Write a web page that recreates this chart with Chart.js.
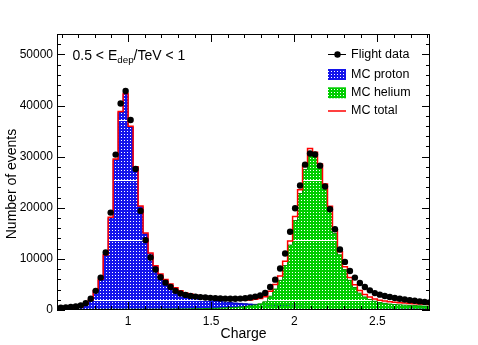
<!DOCTYPE html>
<html><head><meta charset="utf-8">
<script src="https://cdn.jsdelivr.net/npm/chart.js@4/dist/chart.umd.min.js"></script>
<style>html,body{margin:0;padding:0;background:#fff;}#wrap{width:478px;height:345px;}</style>
</head><body><div id="wrap"><canvas id="c" width="478" height="345"></canvas></div>
<script>
// Histogram bin edges (charge)
const BIN_EDGES = [0.55,0.58,0.61,0.64,0.67,0.70,0.73,0.76,0.79,0.82,0.85,0.88,0.91,0.94,0.97,1.00,
1.03,1.06,1.09,1.12,1.15,1.18,1.21,1.24,1.27,1.30,1.33,1.36,1.39,1.42,1.45,1.48,1.51,1.54,1.57,1.60,
1.63,1.66,1.69,1.72,1.75,1.78,1.81,1.84,1.87,1.90,1.93,1.96,1.99,2.02,
2.05,2.08,2.11,2.14,2.17,2.20,2.23,2.26,2.29,2.32,2.35,2.38,2.41,2.44,2.47,2.50,2.53,2.56,2.59,2.62,
2.65,2.68,2.71,2.74,2.77,2.80,2.83];

// Flight data (counts per bin)
const FLIGHT_DATA = [450,460,500,580,700,900,1340,2200,3750,6340,
 11260,19060,30400,40400,42870,37170,27600,19390,13680,10270,
 7910,6400,5350,4490,3750,3250,2950,2750,2620,2520,
 2450,2380,2320,2270,2230,2200,2200,2230,2300,2450,
 2620,2850,3350,4490,5940,8110,11060,15310,19920,24370,
 28440,30610,30410,28240,24170,19720,15790,11850,9410,7640,
 6340,5280,4490,3840,3310,3000,2750,2550,2350,2200,
 2050,1920,1800,1680,1580,1500];

// MC proton
const MC_PROTON = [190,200,220,260,340,540,1000,1850,3650,5900,
 10700,18000,29400,38700,42200,35800,27900,20200,14900,11000,
 8500,6900,5800,4900,4150,3550,3100,2900,2650,2400,
 2200,2000,1850,1700,1560,1450,1370,1300,1230,1160,
 1100,1040,990,950,910,870,840,810,780,750,
 720,700,680,660,640,620,600,580,560,545,
 530,515,500,485,470,455,440,430,420,410,
 400,390,380,370,360,350];

// MC helium
const MC_HELIUM = [100,100,100,100,110,110,110,120,120,120,
 120,130,130,130,140,140,140,150,150,150,
 150,160,170,180,190,200,210,225,240,255,
 280,310,340,380,420,470,530,600,700,820,
 980,1200,1600,2700,4100,5800,8700,12700,17500,22800,
 27500,30900,30200,27900,24000,19700,15000,10800,7900,5800,
 4400,3300,2550,2050,1700,1450,1300,1170,1080,1010,
 950,900,860,810,770,740];

const X_TICKS = [1, 1.5, 2, 2.5];
const Y_TICKS = [0, 10000, 20000, 30000, 40000, 50000];
const X_RANGE = [0.572, 2.817];
const Y_MAX = 54000;

const FONT = "'Liberation Sans', Arial, Helvetica, sans-serif";
Chart.defaults.font.family = FONT;
Chart.defaults.color = '#000';

const canvas = document.getElementById('c');
const ctx0 = canvas.getContext('2d');
function makePattern(color){
  const t = document.createElement('canvas');
  t.width = 3; t.height = 60;
  const g = t.getContext('2d');
  g.fillStyle = color; g.fillRect(0,0,3,60);
  g.clearRect(0,0,3,1);
  for (let yy = 2; yy < 60; yy += 3) g.clearRect(1, yy, 1, 1);
  return ctx0.createPattern(t, 'repeat');
}
const BLUE_PAT = makePattern('rgb(20,20,235)');
const GREEN_PAT = makePattern('rgb(0,205,0)');

function histPoints(vals){
  const pts = vals.map((v,i)=>({x: BIN_EDGES[i], y: v}));
  pts.push({x: BIN_EDGES[vals.length], y: vals[vals.length-1]});
  return pts;
}
const MC_TOTAL = MC_PROTON.map((v,i)=> v + MC_HELIUM[i]);
const centers = FLIGHT_DATA.map((v,i)=> (BIN_EDGES[i]+BIN_EDGES[i+1])/2);

const deco = {
  id: 'deco',
  afterDraw(chart){
    const {ctx, chartArea:a, scales:{x, y}} = chart;
    ctx.save();
    ctx.strokeStyle = '#000'; ctx.lineWidth = 1;
    ctx.beginPath();
    for (let n = 6; n <= 28; n++) {
      const v = n/10;
      const px = Math.round(x.getPixelForValue(v)) + 0.5;
      const L = (n % 5 === 0) ? 8 : 4;
      ctx.moveTo(px, a.bottom); ctx.lineTo(px, a.bottom - L);
      ctx.moveTo(px, a.top); ctx.lineTo(px, a.top + L);
    }
    for (let v = 0; v <= Y_MAX; v += 2000) {
      const py = Math.round(y.getPixelForValue(v)) + 0.5;
      const L = (v % 10000 === 0) ? 8 : 4;
      ctx.moveTo(a.left, py); ctx.lineTo(a.left + L, py);
      ctx.moveTo(a.right, py); ctx.lineTo(a.right - L, py);
    }
    ctx.stroke();
    ctx.strokeRect(a.left + 0.5, a.top + 0.5, a.right - a.left - 1, a.bottom - a.top - 1);

    // y title
    ctx.save();
    ctx.translate(12, 184);
    ctx.rotate(-Math.PI/2);
    ctx.font = '14px ' + FONT;
    ctx.fillStyle = '#000';
    ctx.textAlign = 'center'; ctx.textBaseline = 'middle';
    ctx.fillText('Number of events', 0, 0);
    ctx.restore();

    // annotation
    ctx.fillStyle = '#000';
    ctx.textAlign = 'left'; ctx.textBaseline = 'alphabetic';
    let tx = 72.5;
    ctx.font = '14px ' + FONT;
    const p1 = '0.5 < E';
    ctx.fillText(p1, tx, 60); tx += ctx.measureText(p1).width;
    ctx.font = '9.8px ' + FONT;
    ctx.fillText('dep', tx, 62.5); tx += ctx.measureText('dep').width;
    ctx.font = '14px ' + FONT;
    ctx.fillText('/TeV < 1', tx, 60);

    // legend
    const lx0 = 328, lx1 = 346, tX = 351;
    const rows = [54.5, 74.5, 92.8, 111];
    ctx.font = '12.5px ' + FONT;
    ctx.textBaseline = 'middle';
    // Flight data
    ctx.beginPath(); ctx.strokeStyle = '#000'; ctx.lineWidth = 1;
    ctx.moveTo(lx0, rows[0]); ctx.lineTo(lx1, rows[0]); ctx.stroke();
    ctx.beginPath(); ctx.arc(337.5, rows[0], 3.2, 0, Math.PI*2); ctx.fillStyle = '#000'; ctx.fill();
    ctx.fillText('Flight data', tX, rows[0]);
    // MC proton
    ctx.fillStyle = BLUE_PAT; ctx.fillRect(lx0, rows[1]-5.5, lx1-lx0, 11);
    ctx.fillStyle = '#000'; ctx.fillText('MC proton', tX, rows[1]);
    // MC helium
    ctx.fillStyle = GREEN_PAT; ctx.fillRect(lx0, rows[2]-5.5, lx1-lx0, 11);
    ctx.fillStyle = '#000'; ctx.fillText('MC helium', tX, rows[2]);
    // MC total
    ctx.beginPath(); ctx.strokeStyle = '#ff0000'; ctx.lineWidth = 1.5;
    ctx.moveTo(lx0, rows[3]); ctx.lineTo(lx1, rows[3]); ctx.stroke();
    ctx.fillStyle = '#000'; ctx.fillText('MC total', tX, rows[3]);
    ctx.restore();
  }
};

new Chart(canvas, {
  type: 'line',
  data: {
    datasets: [
      { label: 'Flight data', data: FLIGHT_DATA.map((v,i)=>({x: centers[i], y: v})),
        showLine: false, pointRadius: 3.2, pointBackgroundColor: '#000', pointBorderWidth: 0,
        borderColor: '#000', order: 0 },
      { label: 'MC total', data: histPoints(MC_TOTAL), stepped: 'before', fill: false,
        borderColor: '#ff0000', borderWidth: 1.5, pointRadius: 0, order: 1 },
      { label: 'MC helium', data: histPoints(MC_HELIUM), stepped: 'before', fill: 'origin',
        backgroundColor: GREEN_PAT, borderColor: '#009000', borderWidth: 1, pointRadius: 0, order: 2 },
      { label: 'MC proton', data: histPoints(MC_PROTON), stepped: 'before', fill: 'origin',
        backgroundColor: BLUE_PAT, borderColor: '#0000b0', borderWidth: 1, pointRadius: 0, order: 3 }
    ]
  },
  options: {
    responsive: false, animation: false, devicePixelRatio: 1, events: [],
    layout: { padding: { left: 0, right: 48, top: 34, bottom: 0 } },
    plugins: { legend: { display: false }, tooltip: { enabled: false } },
    scales: {
      x: {
        type: 'linear', min: X_RANGE[0], max: X_RANGE[1],
        grid: { display: false, drawTicks: false, tickLength: 0 },
        border: { display: false },
        afterBuildTicks: s => { s.ticks = X_TICKS.map(v => ({value: v})); },
        afterFit: s => { s.height = 35; },
        ticks: { font: { size: 12 }, padding: 4, color: '#000', maxRotation: 0,
          callback: v => String(v) },
        title: { display: true, text: 'Charge', font: { size: 14 }, color: '#000',
          padding: { top: 0, bottom: 2 } }
      },
      y: {
        type: 'linear', min: 0, max: Y_MAX,
        grid: { display: false, drawTicks: false, tickLength: 0 },
        border: { display: false },
        afterBuildTicks: s => { s.ticks = Y_TICKS.map(v => ({value: v})); },
        afterFit: s => { s.width = 57; },
        ticks: { font: { size: 12 }, padding: 4, color: '#000', callback: v => String(v) }
      }
    }
  },
  plugins: [deco]
});
</script></body></html>
